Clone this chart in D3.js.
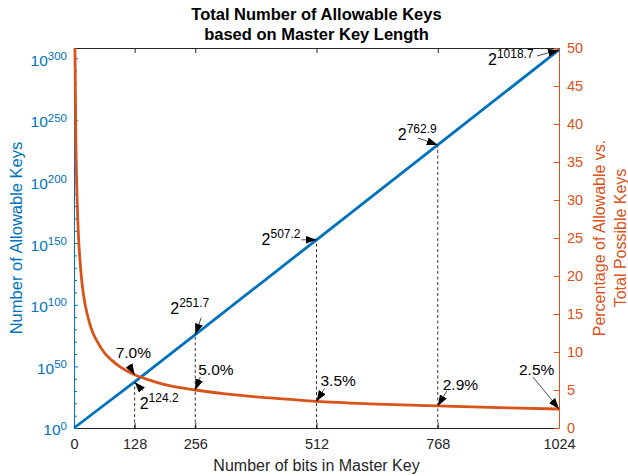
<!DOCTYPE html>
<html>
<head>
<meta charset="utf-8">
<script src="https://cdn.jsdelivr.net/npm/d3@7"></script>
<style>
  html, body { margin: 0; padding: 0; background: #fff; }
  svg { display: block; font-family: "Liberation Sans", Arial, Helvetica, sans-serif; }
</style>
</head>
<body>
<svg id="chart" width="628" height="476"></svg>
<script>
// Master key length (bits) and log2 of the number of allowable keys
const keyBits = [0, 128, 256, 512, 768, 1024];
const allowableExp2 = [0, 124.2, 251.7, 507.2, 762.9, 1018.7];

// Percentage of allowable keys vs. all 2^n possible keys
const pctBits = [2, 4, 6, 8, 10, 12, 16, 20, 24, 32, 40, 48, 64, 80, 96, 128, 160, 192, 256, 320, 384, 448, 512, 640, 768, 896, 1024];
const pctValues = [50, 37.5, 31.3, 27.3, 24.6, 22.6, 19.6, 17.6, 16.1, 14.0, 12.5, 11.5, 9.9, 8.9, 8.1, 7.0, 6.3, 5.7, 5.0, 4.5, 4.1, 3.8, 3.5, 3.15, 2.9, 2.67, 2.5];

// Annotated points
const markBits = [128, 256, 512, 768, 1024];
const markExp2 = [124.2, 251.7, 507.2, 762.9, 1018.7];
const markPct = [7.0, 5.0, 3.5, 2.9, 2.5];

// Axis ticks
const xTicks = [0, 128, 256, 512, 768, 1024];
const leftMajorExp10 = [0, 50, 100, 150, 200, 250, 300];
const leftMinorExp10 = d3.range(0, 310, 10).filter(k => k % 50 !== 0);
const rightTicks = [0, 5, 10, 15, 20, 25, 30, 35, 40, 45, 50];

const BLUE = "#0072BD", ORANGE = "#D95319", AXIS = "#262626";
const LOG2_10 = Math.log2(10);

const svg = d3.select("#chart");
const m = { left: 74, right: 559, top: 48, bottom: 428 };

const x = d3.scaleLinear().domain([0, 1024]).range([m.left, m.right]);
// left axis is logarithmic: positions are linear in the base-2 exponent
const yL = d3.scaleLinear().domain([0, 1024]).range([m.bottom, m.top]);
const yR = d3.scaleLinear().domain([0, 50]).range([m.bottom, m.top]);

// ---- title
const title = svg.append("text")
  .attr("x", (m.left + m.right) / 2).attr("text-anchor", "middle")
  .attr("font-weight", "bold").attr("font-size", 16.5).attr("fill", "#000");
title.append("tspan").attr("x", (m.left + m.right) / 2).attr("y", 20).text("Total Number of Allowable Keys");
title.append("tspan").attr("x", (m.left + m.right) / 2).attr("y", 40).text("based on Master Key Length");

// ---- top box edge with ticks
const topAxis = svg.append("g").attr("transform", `translate(0,${m.top})`)
  .call(d3.axisTop(x).tickValues(xTicks).tickSizeInner(-5).tickSizeOuter(0).tickFormat(""));
topAxis.select(".domain").attr("stroke", AXIS);
topAxis.selectAll(".tick line").attr("stroke", AXIS);

// ---- bottom axis
const xAxis = svg.append("g").attr("transform", `translate(0,${m.bottom})`)
  .call(d3.axisBottom(x).tickValues(xTicks).tickSizeInner(-5).tickSizeOuter(0)
    .tickPadding(11).tickFormat(d3.format("d")));
xAxis.select(".domain").attr("stroke", AXIS);
xAxis.selectAll(".tick line").attr("stroke", AXIS);
xAxis.selectAll(".tick text").attr("fill", AXIS).attr("font-size", 14.5).attr("font-family", null);

svg.append("text").attr("x", (m.left + m.right) / 2).attr("y", 471)
  .attr("text-anchor", "middle").attr("font-size", 16).attr("fill", AXIS)
  .text("Number of bits in Master Key");

// ---- left axis (powers of ten)
const yLeft = svg.append("g").attr("transform", `translate(${m.left},0)`)
  .call(d3.axisLeft(yL).tickValues(leftMajorExp10.map(k => k * LOG2_10))
    .tickSizeInner(-4).tickSizeOuter(0).tickPadding(7).tickFormat(""));
yLeft.select(".domain").attr("stroke", BLUE);
yLeft.selectAll(".tick line").attr("stroke", BLUE);
yLeft.selectAll(".tick text").attr("fill", BLUE).attr("font-size", 15.5).attr("font-family", null)
  .attr("dy", "0.45em")
  .each(function (d, i) {
    const t = d3.select(this);
    t.append("tspan").text("10");
    t.append("tspan").attr("dy", "-0.5em").attr("font-size", 11.5).text(leftMajorExp10[i]);
  });
const yLeftMinor = svg.append("g").attr("transform", `translate(${m.left},0)`)
  .call(d3.axisLeft(yL).tickValues(leftMinorExp10.map(k => k * LOG2_10))
    .tickSizeInner(-3).tickSizeOuter(0).tickFormat(""));
yLeftMinor.select(".domain").remove();
yLeftMinor.selectAll(".tick line").attr("stroke", BLUE);

svg.append("text").attr("transform", `translate(22,${(m.top + m.bottom) / 2}) rotate(-90)`)
  .attr("text-anchor", "middle").attr("font-size", 16.5).attr("fill", BLUE)
  .text("Number of Allowable Keys");

// ---- right axis (percent)
const yRight = svg.append("g").attr("transform", `translate(${m.right},0)`)
  .call(d3.axisRight(yR).tickValues(rightTicks).tickSizeInner(-5).tickSizeOuter(0).tickPadding(8));
yRight.select(".domain").attr("stroke", ORANGE);
yRight.selectAll(".tick line").attr("stroke", ORANGE);
yRight.selectAll(".tick text").attr("fill", ORANGE).attr("font-size", 14.5).attr("font-family", null);

const rTitle = svg.append("text")
  .attr("transform", `translate(605,${(m.top + m.bottom) / 2}) rotate(-90)`)
  .attr("text-anchor", "middle").attr("font-size", 16).attr("fill", ORANGE);
rTitle.append("tspan").attr("x", 0).attr("y", 0).text("Percentage of Allowable vs.");
rTitle.append("tspan").attr("x", 0).attr("y", 20.5).text("Total Possible Keys");

// ---- dashed guides from the x axis up to the allowable-keys line
svg.append("g").selectAll("line").data(markBits.slice(0, 4)).join("line")
  .attr("x1", d => x(d)).attr("x2", d => x(d))
  .attr("y1", m.bottom).attr("y2", (d, i) => yL(markExp2[i]))
  .attr("stroke", "#000").attr("stroke-width", 0.8).attr("stroke-dasharray", "3,2.5");

// ---- data lines
svg.append("clipPath").attr("id", "plotClip").append("rect")
  .attr("x", m.left - 2).attr("y", m.top).attr("width", m.right - m.left + 4).attr("height", m.bottom - m.top);

svg.append("path")
  .datum(keyBits.map((b, i) => [b, allowableExp2[i]]))
  .attr("fill", "none").attr("stroke", BLUE).attr("stroke-width", 2.8)
  .attr("d", d3.line().x(d => x(d[0])).y(d => yL(d[1])));

svg.append("path")
  .datum(pctBits.map((b, i) => [b, pctValues[i]]))
  .attr("clip-path", "url(#plotClip)")
  .attr("fill", "none").attr("stroke", ORANGE).attr("stroke-width", 2.8)
  .attr("d", d3.line().curve(d3.curveMonotoneX).x(d => x(d[0])).y(d => yR(d[1])));

// ---- text arrows
svg.append("defs").append("marker").attr("id", "head").attr("viewBox", "0 0 10 10")
  .attr("refX", 10).attr("refY", 5).attr("markerUnits", "userSpaceOnUse")
  .attr("markerWidth", 11).attr("markerHeight", 8).attr("orient", "auto")
  .attr("preserveAspectRatio", "none")
  .append("path").attr("d", "M0,0 L10,5 L0,10 Z").attr("fill", "#000");

// offsets (px) of arrow tail and label from each arrow tip
const expLayout = [
  { tail: [8, 9], text: [5, 27], anchor: "start" },
  { tail: [6, -17], text: [-25, -21], anchor: "start" },
  { tail: [-15, 0], text: [-16, 5], anchor: "end" },
  { tail: [-20, -7], text: [-40, -5], anchor: "start" },
  { tail: [-22, 6], text: [-71, 15], anchor: "start" }
];
const pctLayout = [
  { tail: [-6, -10], text: [-19, -17] },
  { tail: [5, -13], text: [3, -15] },
  { tail: [8, -13], text: [4, -15] },
  { tail: [9, -15], text: [5, -16] },
  { tail: [-26, -32], text: [-40, -34] }
];

const ann = svg.append("g");
markBits.forEach((b, i) => {
  // allowable-keys labels
  const tx = x(b), ty = yL(markExp2[i]);
  const L = expLayout[i];
  ann.append("line")
    .attr("x1", tx + L.tail[0]).attr("y1", ty + L.tail[1]).attr("x2", tx).attr("y2", ty)
    .attr("stroke", "#000").attr("stroke-width", 0.7).attr("marker-end", "url(#head)");
  const t = ann.append("text").attr("x", tx + L.text[0]).attr("y", ty + L.text[1])
    .attr("text-anchor", L.anchor).attr("font-size", 16).attr("fill", "#000");
  t.append("tspan").text("2");
  t.append("tspan").attr("dy", -7).attr("font-size", 12).text(markExp2[i].toFixed(1));

  // percentage labels
  const px = x(b), py = yR(markPct[i]);
  const P = pctLayout[i];
  ann.append("line")
    .attr("x1", px + P.tail[0]).attr("y1", py + P.tail[1]).attr("x2", px).attr("y2", py)
    .attr("stroke", "#000").attr("stroke-width", 0.7).attr("marker-end", "url(#head)");
  ann.append("text").attr("x", px + P.text[0]).attr("y", py + P.text[1])
    .attr("font-size", 15.5).attr("fill", "#000")
    .text(markPct[i].toFixed(1) + "%");
});
</script>
</body>
</html>
